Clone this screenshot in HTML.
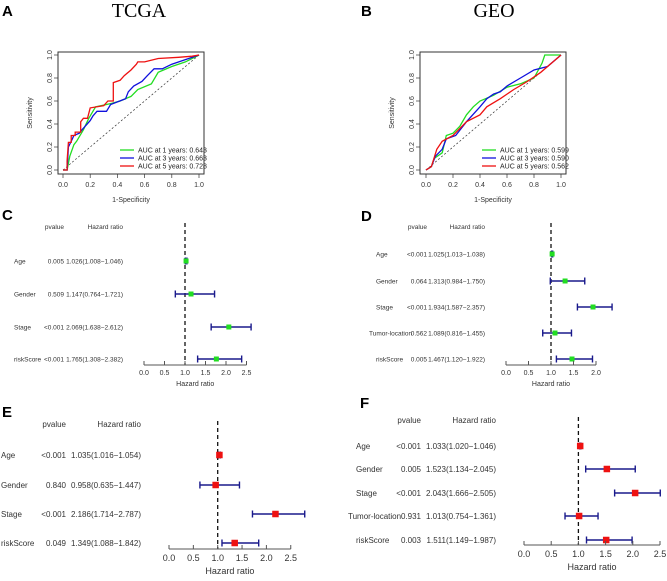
<!DOCTYPE html>
<html><head><meta charset="utf-8"><style>
html,body{margin:0;padding:0;background:#fff;width:667px;height:581px;overflow:hidden}
svg{display:block;font-family:"Liberation Sans",sans-serif}
.serif{font-family:"Liberation Serif",serif}
</style></head><body>
<svg id="fig" width="667" height="581" viewBox="0 0 667 581">
<text x="2" y="16" font-size="15" font-weight="bold">A</text>
<text x="139" y="17" font-size="20" text-anchor="middle" class="serif">TCGA</text>
<text x="361" y="16" font-size="15" font-weight="bold">B</text>
<text x="494" y="17" font-size="20" text-anchor="middle" class="serif">GEO</text>
<text x="2" y="220" font-size="15" font-weight="bold">C</text>
<text x="361" y="221" font-size="15" font-weight="bold">D</text>
<text x="2" y="417" font-size="15" font-weight="bold">E</text>
<text x="360" y="408" font-size="15" font-weight="bold">F</text>
</svg>
<script>
// ROC data: [fpr, tpr]
const rocA_green=[[0,0],[0.03,0],[0.05,0.12],[0.08,0.22],[0.1,0.25],[0.15,0.35],[0.19,0.45],[0.24,0.55],[0.32,0.57],[0.36,0.58],[0.42,0.6],[0.5,0.64],[0.55,0.7],[0.65,0.75],[0.7,0.85],[0.8,0.9],[0.9,0.94],[1,1]];
const rocA_blue=[[0,0],[0.03,0],[0.04,0.2],[0.06,0.25],[0.08,0.3],[0.12,0.32],[0.14,0.35],[0.2,0.43],[0.22,0.47],[0.25,0.51],[0.32,0.51],[0.35,0.57],[0.46,0.62],[0.48,0.68],[0.52,0.73],[0.58,0.77],[0.62,0.82],[0.67,0.88],[0.73,0.88],[0.8,0.92],[0.9,0.96],[1,1]];
const rocA_red=[[0,0],[0.03,0],[0.03,0.08],[0.04,0.24],[0.06,0.24],[0.06,0.3],[0.09,0.3],[0.09,0.33],[0.13,0.33],[0.13,0.42],[0.15,0.45],[0.18,0.45],[0.2,0.54],[0.3,0.56],[0.33,0.6],[0.37,0.6],[0.37,0.76],[0.42,0.78],[0.45,0.82],[0.5,0.87],[0.54,0.92],[0.55,0.94],[0.6,0.94],[0.7,0.97],[0.85,0.98],[0.95,0.99],[1,1]];
const rocB_green=[[0,0],[0.04,0.03],[0.06,0.1],[0.12,0.15],[0.15,0.3],[0.2,0.32],[0.25,0.38],[0.3,0.48],[0.35,0.55],[0.4,0.6],[0.5,0.65],[0.6,0.72],[0.7,0.75],[0.8,0.8],[0.86,0.93],[0.88,1],[1,1]];
const rocB_blue=[[0,0],[0.04,0.03],[0.07,0.12],[0.12,0.18],[0.15,0.27],[0.22,0.3],[0.3,0.42],[0.4,0.55],[0.45,0.62],[0.5,0.66],[0.55,0.68],[0.6,0.73],[0.7,0.8],[0.8,0.87],[0.9,0.9],[1,1]];
const rocB_red=[[0,0],[0.04,0.03],[0.08,0.18],[0.12,0.25],[0.2,0.3],[0.3,0.42],[0.4,0.48],[0.45,0.55],[0.55,0.62],[0.65,0.7],[0.75,0.77],[0.85,0.85],[0.95,0.95],[1,1]];
const legendA=["AUC at 1 years: 0.643","AUC at 3 years: 0.663","AUC at 5 years: 0.728"];
const legendB=["AUC at 1 years: 0.599","AUC at 3 years: 0.590","AUC at 5 years: 0.562"];
const rocTicks=[0,0.2,0.4,0.6,0.8,1.0];
// forest data
const varsC=["Age","Gender","Stage","riskScore"];
const pC=["0.005","0.509","<0.001","<0.001"];
const hrC=[1.026,1.147,2.069,1.765];
const loC=[1.008,0.764,1.638,1.308];
const hiC=[1.046,1.721,2.612,2.382];
const varsD=["Age","Gender","Stage","Tumor-location","riskScore"];
const pD=["<0.001","0.064","<0.001","0.562","0.005"];
const hrD=[1.025,1.313,1.934,1.089,1.467];
const loD=[1.013,0.984,1.587,0.816,1.120];
const hiD=[1.038,1.750,2.357,1.455,1.922];
const varsE=["Age","Gender","Stage","riskScore"];
const pE=["<0.001","0.840","<0.001","0.049"];
const hrE=[1.035,0.958,2.186,1.349];
const loE=[1.016,0.635,1.714,1.088];
const hiE=[1.054,1.447,2.787,1.842];
const varsF=["Age","Gender","Stage","Tumor-location","riskScore"];
const pF=["<0.001","0.005","<0.001","0.931","0.003"];
const hrF=[1.033,1.523,2.043,1.013,1.511];
const loF=[1.020,1.134,1.666,0.754,1.149];
const hiF=[1.046,2.045,2.505,1.361,1.987];
const ticksC=[0,0.5,1.0,1.5,2.0,2.5];
const ticksD=[0,0.5,1.0,1.5,2.0];

const svg=document.getElementById('fig');
const NS='http://www.w3.org/2000/svg';
function el(tag,attrs,parent,txt){const e=document.createElementNS(NS,tag);for(const k in attrs)e.setAttribute(k,attrs[k]);if(txt!==undefined)e.textContent=txt;(parent||svg).appendChild(e);return e;}

function roc(cfg){
  const g=el('g',{});
  
  
  const sx=v=>cfg.x0+v*(cfg.x1-cfg.x0), sy=v=>cfg.y0-v*(cfg.y0-cfg.y1);
  const box=el('rect',{x:cfg.bx0,y:52,width:cfg.bx1-cfg.bx0,height:122,fill:'none',stroke:'#333','stroke-width':1},g);
  
  
  const diag=el('line',{x1:sx(0),y1:sy(0),x2:sx(1),y2:sy(1),stroke:'#333','stroke-width':0.7,'stroke-dasharray':'2,2'},g);
  
  
  rocTicks.forEach(t=>{
    el('line',{x1:sx(t),y1:174,x2:sx(t),y2:178,stroke:'#333','stroke-width':0.7},g);
    const tl=el('text',{x:sx(t),y:187,'font-size':7,'text-anchor':'middle',fill:'#333'},g,t.toFixed(1));
    
    
    el('line',{x1:cfg.bx0,y1:sy(t),x2:cfg.bx0-4,y2:sy(t),stroke:'#333','stroke-width':0.7},g);
    const yl=el('text',{x:cfg.bx0-8,y:sy(t),'font-size':7,'text-anchor':'middle',fill:'#333',transform:`rotate(-90 ${cfg.bx0-8} ${sy(t)})`,'dominant-baseline':'middle'},g,t.toFixed(1));
    
    
  });
  const xt=el('text',{x:(cfg.bx0+cfg.bx1)/2,y:202,'font-size':7,'text-anchor':'middle',fill:'#333'},g,'1-Specificity');
  
  
  const yx=cfg.bx0-26;
  const yt=el('text',{x:yx,y:113,'font-size':7,'text-anchor':'middle',fill:'#333',transform:`rotate(-90 ${yx} 113)`},g,'Sensitivity');
  
  
  const cols=['#22dd22','#1010dd','#ee1111'];
  cfg.series.forEach((s,i)=>{
    let d='';s.forEach((p,j)=>{d+=(j?'L':'M')+sx(p[0]).toFixed(1)+','+sy(p[1]).toFixed(1);});
    const pth=el('path',{d:d,fill:'none',stroke:cols[i],'stroke-width':1.3},g);
    
    
    const ly=150+i*8;
    el('line',{x1:cfg.lx,y1:ly,x2:cfg.lx+14,y2:ly,stroke:cols[i],'stroke-width':1.3},g);
    const lt=el('text',{x:cfg.lx+18,y:ly+2.5,'font-size':7,fill:'#222'},g,cfg.legend[i]);
    
    
  });
}
roc({name:'roc-tcga',bx0:58,bx1:204,x0:63,x1:199,y0:170,y1:55,lx:120,series:[rocA_green,rocA_blue,rocA_red],legend:legendA});
roc({name:'roc-geo',bx0:420,bx1:566,x0:426,x1:561,y0:170,y1:55,lx:482,series:[rocB_green,rocB_blue,rocB_red],legend:legendB});

function forest(c){
  const g=el('g',{});
  
  
  const sx=v=>c.ax0+v*c.per;
  const fs=c.fs;
  const h1=el('text',{x:c.pR,y:c.hy,'font-size':fs,'text-anchor':'end',fill:'#333'},g,'pvalue');
  
  
  const h2=el('text',{x:c.hrR,y:c.hy,'font-size':fs,'text-anchor':'end',fill:'#333'},g,'Hazard ratio');
  
  
  const top=c.hy-6;
  const ref=el('line',{x1:sx(1),y1:top,x2:sx(1),y2:c.axy,stroke:'#111','stroke-width':1.3,'stroke-dasharray':'4,3'},g);
  
  
  c.vars.forEach((v,i)=>{
    const y=c.rows[i];
    const nx=(v==='Tumor-location')?c.nameX-c.tumShift:c.nameX;
    const n=el('text',{x:nx,y:y+fs*0.35,'font-size':fs,fill:'#333'},g,v);
    
    
    const p=el('text',{x:c.pR,y:y+fs*0.35,'font-size':fs,'text-anchor':'end',fill:'#333'},g,c.p[i]);
    
    
    const t=el('text',{x:c.hrR,y:y+fs*0.35,'font-size':fs,'text-anchor':'end',fill:'#333'},g,c.hr[i].toFixed(3)+'('+c.lo[i].toFixed(3)+'\u2212'+c.hi[i].toFixed(3)+')');
    
    
    const ci=el('path',{d:`M${sx(c.lo[i])},${y}H${sx(c.hi[i])}M${sx(c.lo[i])},${y-3.5}V${y+3.5}M${sx(c.hi[i])},${y-3.5}V${y+3.5}`,stroke:'#1a1a8c','stroke-width':1.4,fill:'none'},g);
    
    
    const s=c.sq;
    const m=el('rect',{x:sx(c.hr[i])-s/2,y:y-s/2,width:s,height:s,fill:c.col},g);
    
    
  });
  const t0=c.ticks[0],tn=c.ticks[c.ticks.length-1];
  const ax=el('line',{x1:sx(t0),y1:c.axy,x2:sx(tn),y2:c.axy,stroke:'#555','stroke-width':1},g);
  
  
  c.ticks.forEach(t=>{
    el('line',{x1:sx(t),y1:c.axy-4,x2:sx(t),y2:c.axy,stroke:'#555','stroke-width':1},g);
    const tl=el('text',{x:sx(t),y:c.axy+c.tfs+3,'font-size':c.tfs,'text-anchor':'middle',fill:'#333'},g,t.toFixed(1));
    
    
  });
  const xt=el('text',{x:(sx(t0)+sx(tn))/2,y:c.axy+c.tfs*2+7,'font-size':c.tfs,'text-anchor':'middle',fill:'#333'},g,'Hazard ratio');
  
  
}
forest({name:'forest-c',vars:varsC,p:pC,hr:hrC,lo:loC,hi:hiC,ticks:ticksC,rows:[261,294,327,359],hy:229,nameX:14,tumShift:0,pR:64,hrR:123,ax0:144,per:41,axy:365,fs:6.5,tfs:7,sq:5,col:'#22dd22'});
forest({name:'forest-d',vars:varsD,p:pD,hr:hrD,lo:loD,hi:hiD,ticks:ticksD,rows:[254,281,307,333,359],hy:229,nameX:376,tumShift:7,pR:427,hrR:485,ax0:506,per:45,axy:365,fs:6.5,tfs:7,sq:5,col:'#22dd22'});
forest({name:'forest-e',vars:varsE,p:pE,hr:hrE,lo:loE,hi:hiE,ticks:ticksC,rows:[455,485,514,543],hy:427,nameX:1,tumShift:0,pR:66,hrR:141,ax0:169,per:48.7,axy:549,fs:8,tfs:9,sq:6.5,col:'#ee1111'});
forest({name:'forest-f',vars:varsF,p:pF,hr:hrF,lo:loF,hi:hiF,ticks:ticksC,rows:[446,469,493,516,540],hy:423,nameX:356,tumShift:8,pR:421,hrR:496,ax0:524,per:54.4,axy:545,fs:8,tfs:9,sq:6.5,col:'#ee1111'});
</script>
</body></html>
